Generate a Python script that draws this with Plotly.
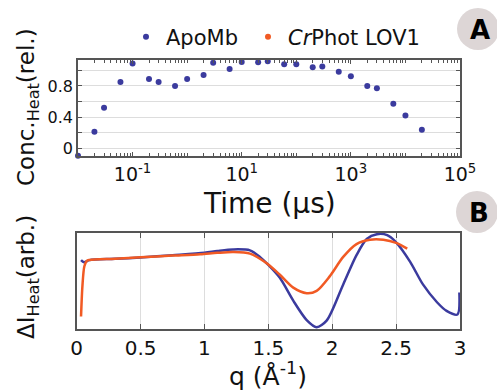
import plotly.graph_objects as go

# ---- Panel A data: heat concentration vs time (ApoMb) ----
time_us = [0.01, 0.02, 0.03, 0.06, 0.1, 0.2, 0.3, 0.6, 1, 2, 3, 6, 10, 20, 30, 60,
           100, 200, 300, 600, 1000, 2000, 3000, 6000, 10000, 20000]
conc_apomb = [-0.10, 0.21, 0.52, 0.85, 1.09, 0.89, 0.85, 0.80, 0.89, 0.94, 1.10, 1.02,
              1.11, 1.105, 1.12, 1.08, 1.08, 1.04, 1.05, 0.985, 0.925, 0.80, 0.77,
              0.57, 0.42, 0.235]

# ---- Panel B data: heat difference curves ----
q_apomb = [0.034, 0.057, 0.1, 0.3, 0.5, 0.75, 1.0, 1.1, 1.225, 1.356, 1.434, 1.5, 1.59,
           1.695, 1.8, 1.878, 1.956, 2.086, 2.19, 2.27, 2.35, 2.43, 2.5, 2.61,
           2.71, 2.82, 2.895, 2.98, 2.995]
di_apomb = [0.726, 0.702, 0.726, 0.740, 0.755, 0.780, 0.807, 0.825, 0.842, 0.832, 0.761,
            0.674, 0.534, 0.287, 0.077, 0.0, 0.07, 0.463, 0.78, 0.955, 1.007,
            0.997, 0.919, 0.708, 0.463, 0.27, 0.176, 0.137, 0.376]

q_lov = [0.034, 0.045, 0.06, 0.08, 0.1, 0.3, 0.5, 0.75, 0.966, 1.1, 1.225, 1.356, 1.487,
         1.59, 1.695, 1.8, 1.878, 1.98, 2.086, 2.19, 2.295, 2.4, 2.5, 2.587]
di_lov = [0.115, 0.45, 0.66, 0.72, 0.728, 0.742, 0.757, 0.775, 0.79, 0.805, 0.814, 0.797,
          0.692, 0.568, 0.428, 0.368, 0.393, 0.55, 0.761, 0.9, 0.947, 0.947,
          0.913, 0.85]

BLUE = "#3b3b9e"
ORANGE = "#f15a24"
FONT = "DejaVu Sans"
FRAME = "#555555"
GRID = "#dddddd"

W, H = 497, 391


def px_x(p):
    return p / W


def px_y(p):
    return 1 - p / H


fig = go.Figure()

fig.add_trace(go.Scatter(x=time_us, y=conc_apomb, mode="markers", name="ApoMb",
                         marker=dict(color=BLUE, size=6), cliponaxis=False,
                         legend="legend", xaxis="x", yaxis="y"))
fig.add_trace(go.Scatter(x=[None], y=[None], mode="markers", name="<i>Cr</i>Phot LOV1",
                         marker=dict(color=ORANGE, size=6), legend="legend2",
                         xaxis="x", yaxis="y"))
fig.add_trace(go.Scatter(x=q_apomb, y=di_apomb, mode="lines", showlegend=False,
                         line=dict(color=BLUE, width=2.5, shape="spline", smoothing=0.8),
                         xaxis="x2", yaxis="y2"))
fig.add_trace(go.Scatter(x=q_lov, y=di_lov, mode="lines", showlegend=False,
                         line=dict(color=ORANGE, width=2.5, shape="spline", smoothing=0.8),
                         xaxis="x2", yaxis="y2"))

axis_common = dict(showline=True, linecolor=FRAME, linewidth=1.5, mirror="ticks",
                   ticks="inside", tickcolor=FRAME, zeroline=False, automargin=False)

legend_common = dict(orientation="h", yanchor="middle", xanchor="left",
                     font=dict(size=21, family=FONT, color="#111111"), itemwidth=30,
                     bgcolor="rgba(0,0,0,0)", borderwidth=0)

fig.update_layout(
    template="none",
    width=W, height=H,
    margin=dict(l=0, r=0, t=0, b=0, pad=0),
    paper_bgcolor="white", plot_bgcolor="white",
    font=dict(family=FONT, color="#111111"),
    showlegend=True,
    legend=dict(x=px_x(126), y=px_y(37), **legend_common),
    legend2=dict(x=px_x(248), y=px_y(37), **legend_common),
    xaxis=dict(type="log", range=[-2, 5], domain=[px_x(78), px_x(460)], anchor="y",
               tickvals=[0.1, 10, 1000, 100000],
               ticktext=["10<sup>-1</sup>", "10<sup>1</sup>", "10<sup>3</sup>", "10<sup>5</sup>"],
               tickfont=dict(size=19), ticklen=4, showgrid=False,
               minor=dict(ticks="inside", ticklen=3, tickcolor=FRAME, dtick="D1", showgrid=False),
               **axis_common),
    yaxis=dict(range=[-0.103, 1.135], domain=[px_y(156), px_y(60)], anchor="x",
               tickvals=[0, 0.2, 0.4, 0.6, 0.8, 1.0],
               ticktext=["0", "", "0.4", "", "0.8", ""],
               tickfont=dict(size=16), ticklen=4, showgrid=True, gridcolor=GRID,
               **axis_common),
    xaxis2=dict(range=[0, 3], domain=[px_x(76.7), px_x(460)], anchor="y2",
                tickvals=[0, 0.5, 1, 1.5, 2, 2.5, 3],
                ticktext=["0", "0.5", "1", "1.5", "2", "2.5", "3"],
                tickfont=dict(size=20), ticklen=5, showgrid=True, gridcolor=GRID,
                **axis_common),
    yaxis2=dict(range=[-0.02, 1.02], domain=[px_y(329), px_y(233)], anchor="x2",
                showticklabels=False, ticks="", showgrid=False, automargin=False,
                showline=True, linecolor=FRAME, linewidth=1.5, mirror=True, zeroline=False),
)

# axis titles
fig.add_annotation(text="Conc.<sub>Heat</sub>(rel.)", x=px_x(28), y=px_y(107),
                   xref="paper", yref="paper", textangle=-90, showarrow=False,
                   font=dict(size=23), xanchor="center", yanchor="middle")
fig.add_annotation(text="Time (µs)", x=px_x(269), y=px_y(203),
                   xref="paper", yref="paper", showarrow=False,
                   font=dict(size=28), xanchor="center", yanchor="middle")
fig.add_annotation(text="ΔI<sub>Heat</sub>(arb.)", x=px_x(28), y=px_y(277),
                   xref="paper", yref="paper", textangle=-90, showarrow=False,
                   font=dict(size=23), xanchor="center", yanchor="middle")
fig.add_annotation(text="q (Å<sup>-1</sup>)", x=px_x(268), y=px_y(374),
                   xref="paper", yref="paper", showarrow=False,
                   font=dict(size=25), xanchor="center", yanchor="middle")

# panel badges
for label, cx, cy in [("A", 478, 29), ("B", 477, 212)]:
    fig.add_shape(type="circle", xref="paper", yref="paper",
                  x0=px_x(cx - 21), x1=px_x(cx + 21), y0=px_y(cy + 21), y1=px_y(cy - 21),
                  fillcolor="#ddd6d6", line=dict(width=0), layer="below")
    fig.add_annotation(text="<b>%s</b>" % label, x=px_x(cx + 2), y=px_y(cy + 1),
                       xref="paper", yref="paper", showarrow=False,
                       font=dict(size=26, family="DejaVu Sans", color="black"),
                       xanchor="center", yanchor="middle")

fig.write_html("out.html")
